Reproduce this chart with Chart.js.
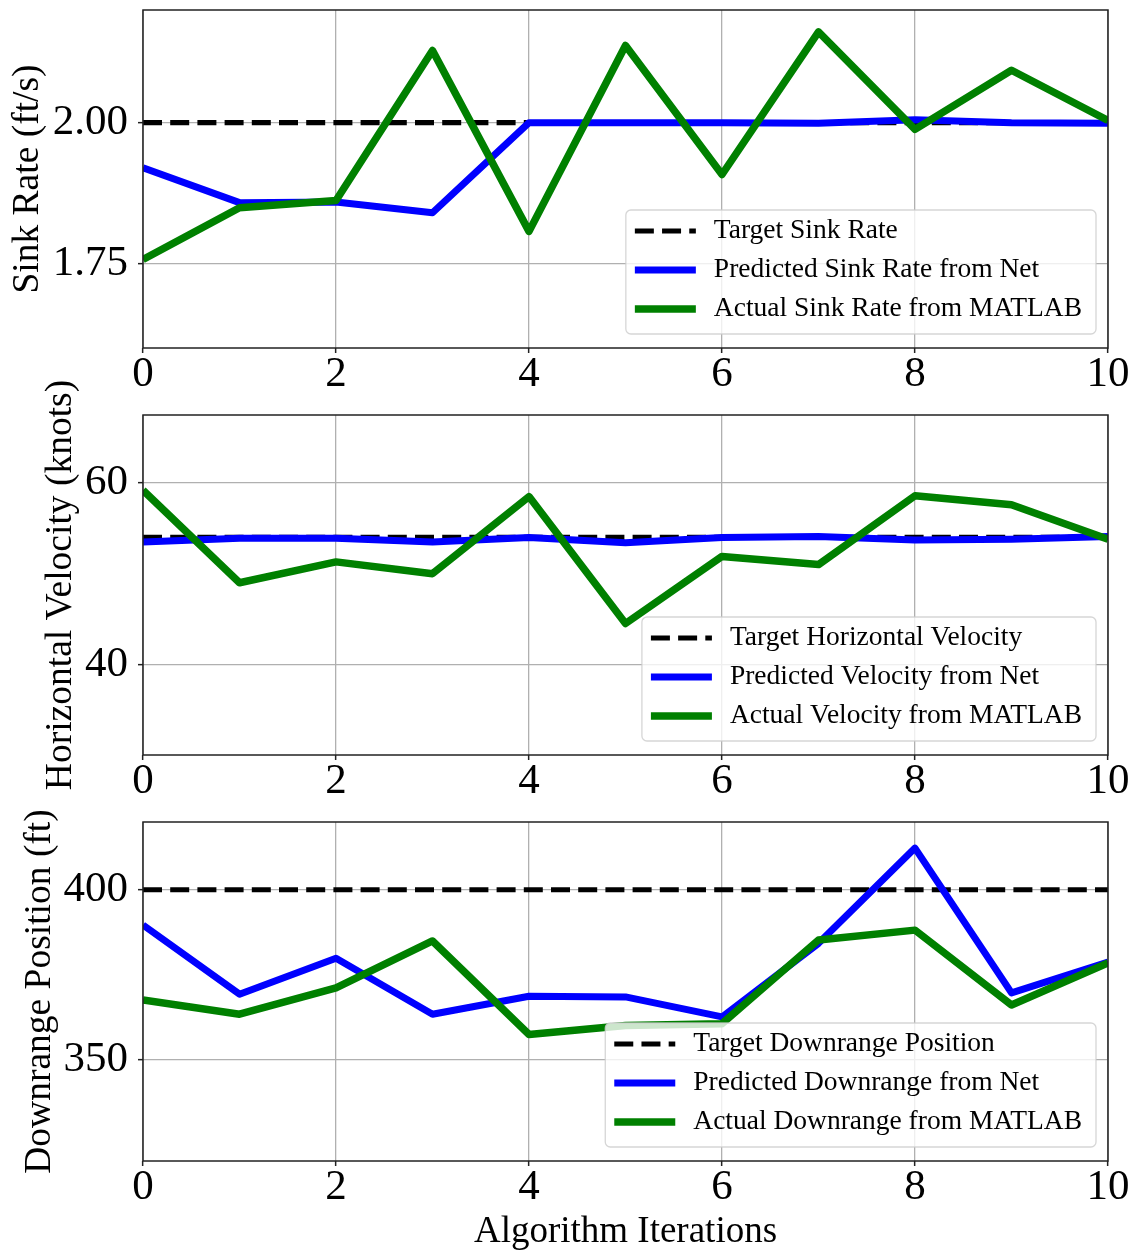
<!DOCTYPE html>
<html>
<head>
<meta charset="utf-8">
<script src="https://cdn.jsdelivr.net/npm/chart.js@4.4.1/dist/chart.umd.min.js"></script>
<style>
  body { margin: 0; background: #fff; }
  #wrap { position: relative; width: 1132px; height: 1253px; }
  #wrap canvas { position: absolute; left: 0; top: 0; }
</style>
</head>
<body>
<div id="wrap">
  <canvas id="sinkChart" width="1132" height="1253"></canvas>
  <canvas id="velChart" width="1132" height="1253"></canvas>
  <canvas id="downChart" width="1132" height="1253"></canvas>
</div>
<script>
// iterations of the search loop
const iterations = [0, 1, 2, 3, 4, 5, 6, 7, 8, 9, 10];
const xTicks = [0, 2, 4, 6, 8, 10];

// sink rate (ft/s)
const sinkTarget = 2.0;
const sinkPredicted = [1.92, 1.858, 1.859, 1.84, 2.0, 2.0, 2.0, 1.999, 2.005, 2.0, 1.999];
const sinkActual = [1.757, 1.849, 1.862, 2.128, 1.807, 2.137, 1.908, 2.161, 1.988, 2.093, 2.004];
const sinkTicks = [1.75, 2.0];

// horizontal velocity (knots)
const velTarget = 54;
const velPredicted = [53.5, 53.9, 53.9, 53.5, 54.0, 53.4, 54.0, 54.1, 53.7, 53.8, 54.1];
const velActual = [59.2, 49.0, 51.3, 50.0, 58.5, 44.5, 51.9, 51.0, 58.6, 57.6, 53.8];
const velTicks = [40, 60];

// downrange position (ft)
const downTarget = 400;
const downPredicted = [389.6, 369.2, 379.8, 363.3, 368.6, 368.4, 362.5, 384.2, 412.3, 369.6, 378.7];
const downActual = [367.5, 363.3, 371.1, 384.9, 357.3, 360.0, 360.5, 385.2, 388.1, 366.0, 378.4];
const downTicks = [350, 400];

const serif = "'Liberation Serif', 'DejaVu Serif', serif";

function pts(ys) {
  return iterations.map(function (x, i) { return { x: x, y: ys[i] }; });
}
function flat(v) {
  return iterations.map(function (x) { return { x: x, y: v }; });
}

// frame + boxed legend in the lower right corner of each plot
const boxLegend = {
  id: 'boxLegend',
  afterDatasetsDraw(chart) {
    const ctx = chart.ctx;
    const a = chart.chartArea;
    ctx.save();
    ctx.strokeStyle = '#222';
    ctx.lineWidth = 1.5;
    ctx.strokeRect(a.left, a.top, a.right - a.left, a.bottom - a.top);

    ctx.font = '27.5px ' + serif;
    const sets = chart.data.datasets;
    let maxW = 0;
    sets.forEach(function (ds) { maxW = Math.max(maxW, ctx.measureText(ds.label).width); });
    const w = 88 + maxW + 14, h = 124;
    const left = a.right - 12 - w, top = a.bottom - 14 - h;

    ctx.beginPath();
    ctx.roundRect(left, top, w, h, 5);
    ctx.fillStyle = 'rgba(255,255,255,0.8)';
    ctx.fill();
    ctx.strokeStyle = 'rgba(204,204,204,0.8)';
    ctx.lineWidth = 1.3;
    ctx.stroke();

    sets.forEach(function (ds, i) {
      const y = top + 21 + i * 39;
      ctx.beginPath();
      ctx.setLineDash(ds.borderDash || []);
      ctx.strokeStyle = ds.borderColor;
      ctx.lineWidth = ds.borderWidth;
      ctx.moveTo(left + 9, y);
      ctx.lineTo(left + 70, y);
      ctx.stroke();
      ctx.setLineDash([]);
      ctx.fillStyle = '#000';
      ctx.textBaseline = 'middle';
      ctx.textAlign = 'left';
      ctx.fillText(ds.label, left + 88, y);
    });
    ctx.restore();
  }
};

function makeChart(id, c) {
  new Chart(document.getElementById(id), {
    type: 'line',
    data: {
      datasets: [
        { label: c.names[0], data: flat(c.target), borderColor: '#000', borderWidth: 5.1,
          borderDash: [19, 8.2], order: 3 },
        { label: c.names[1], data: pts(c.predicted), borderColor: '#0000ff', borderWidth: 7, order: 2 },
        { label: c.names[2], data: pts(c.actual), borderColor: '#008000', borderWidth: 7.5, order: 1 }
      ]
    },
    options: {
      responsive: false,
      animation: false,
      devicePixelRatio: 1,
      layout: { padding: { top: c.padTop, bottom: c.padBottom, left: 0, right: 24 } },
      elements: {
        point: { radius: 0 },
        line: { tension: 0, borderJoinStyle: 'round', fill: false }
      },
      datasets: { line: { clip: 0 } },
      plugins: { legend: { display: false }, tooltip: { enabled: false } },
      scales: {
        x: {
          type: 'linear', min: 0, max: 10,
          afterBuildTicks: function (s) { s.ticks = xTicks.map(function (v) { return { value: v }; }); },
          afterFit: function (s) { s.height = c.xHeight; s.paddingLeft = 0; s.paddingRight = 0; },
          ticks: { font: { family: serif, size: 43, lineHeight: 1 }, color: '#000', padding: 0.5,
                   maxRotation: 0, autoSkip: false },
          grid: { color: '#b0b0b0', lineWidth: 1.3, tickLength: 5, tickColor: '#222', tickWidth: 1.5 },
          border: { display: false },
          title: { display: !!c.xTitle, text: c.xTitle || '', color: '#000',
                   font: { family: serif, size: 37, lineHeight: 1 }, padding: { top: 0, bottom: 2.5 } }
        },
        y: {
          type: 'linear', min: c.yMin, max: c.yMax,
          afterBuildTicks: function (s) { s.ticks = c.ticks.map(function (v) { return { value: v }; }); },
          afterFit: function (s) { s.width = 143; s.paddingTop = 0; s.paddingBottom = 0; },
          ticks: { font: { family: serif, size: 43, lineHeight: 1 }, color: '#000', padding: 10,
                   callback: function (v) { return v.toFixed(c.dec); } },
          grid: { color: '#b0b0b0', lineWidth: 1.3, tickLength: 5, tickColor: '#222', tickWidth: 1.5 },
          border: { display: false },
          title: { display: true, text: c.yTitle, color: '#000',
                   font: { family: serif, size: 37.5, lineHeight: 1.2 }, padding: { top: c.titlePad, bottom: 0 } }
        }
      }
    },
    plugins: [boxLegend]
  });
}

makeChart('sinkChart', {
  names: ['Target Sink Rate', 'Predicted Sink Rate from Net', 'Actual Sink Rate from MATLAB'],
  target: sinkTarget, predicted: sinkPredicted, actual: sinkActual,
  yMin: 1.6, yMax: 2.2, ticks: sinkTicks, dec: 2, yTitle: 'Sink Rate (ft/s)', titlePad: 5.5,
  padTop: 10, padBottom: 853, xHeight: 52
});

makeChart('velChart', {
  names: ['Target Horizontal Velocity', 'Predicted Velocity from Net', 'Actual Velocity from MATLAB'],
  target: velTarget, predicted: velPredicted, actual: velActual,
  yMin: 30, yMax: 67.5, ticks: velTicks, dec: 0, yTitle: 'Horizontal Velocity (knots)', titlePad: 38.8,
  padTop: 415, padBottom: 446, xHeight: 52
});

makeChart('downChart', {
  names: ['Target Downrange Position', 'Predicted Downrange from Net', 'Actual Downrange from MATLAB'],
  target: downTarget, predicted: downPredicted, actual: downActual,
  yMin: 320, yMax: 420, ticks: downTicks, dec: 0, yTitle: 'Downrange Position (ft)', titlePad: 17.8,
  padTop: 822, padBottom: 0, xHeight: 92, xTitle: 'Algorithm Iterations'
});
</script>
</body>
</html>
